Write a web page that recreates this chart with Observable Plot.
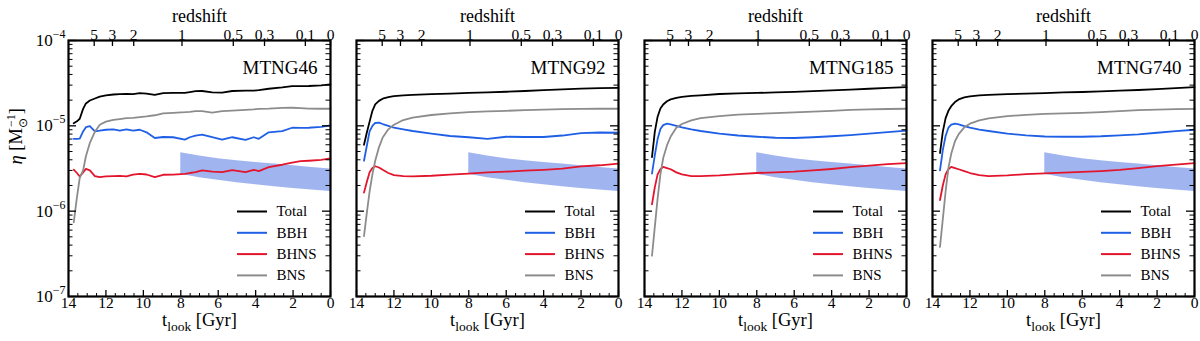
<!DOCTYPE html>
<html><head><meta charset="utf-8">
<script src="https://cdn.jsdelivr.net/npm/d3@7"></script>
<script src="https://cdn.jsdelivr.net/npm/@observablehq/plot@0.6"></script>
<style>
html,body{margin:0;padding:0;background:#fff;}
#chart{width:1200px;height:341px;}
#chart svg text{font-family:"Liberation Serif","Times New Roman",Times,serif;}
</style></head><body><div id="chart"></div>
<script>
// ---------------- data ----------------
const panels = ["MTNG46", "MTNG92", "MTNG185", "MTNG740"];
const seriesNames = ["Total", "BBH", "BHNS", "BNS"];
const seriesColors = ["#000000", "#1f5fe6", "#e3152c", "#8c8c8c"];

// MTNG46 (noisy), lookback time [Gyr], values in units of 1e-6 Msun^-1
const tLook46 = [13.72, 13.55, 13.4, 13.22, 13.07, 12.86, 12.59, 12.33, 12.0, 11.6, 11.26, 10.9, 10.55, 10.19, 9.83, 9.39, 8.94, 8.41, 7.78, 7.52, 7.21, 6.86, 6.32, 5.79, 5.25, 4.54, 4.1, 3.83, 3.3, 2.58, 2.05, 1.6, 1.16, 0.5, 0];
const total46 = [10.7, 11.3, 12.1, 15.8, 18.3, 19.8, 20.9, 22.0, 22.8, 23.3, 23.5, 23.7, 23.5, 24.2, 23.9, 23.1, 24.2, 24.3, 24.4, 24.9, 25.5, 25.6, 24.6, 24.5, 25.6, 25.9, 25.9, 26.2, 27.2, 28.2, 29.2, 29.2, 29.3, 29.8, 30.6];
const bbh46   = [7.05, 7.05, 7.1, 8.6, 9.64, 9.9, 8.6, 8.8, 9.0, 9.1, 8.8, 9.1, 8.8, 9.0, 8.4, 7.2, 7.4, 7.35, 6.9, 7.35, 7.7, 7.9, 7.35, 6.9, 7.35, 6.85, 7.35, 7.05, 8.4, 8.65, 9.5, 9.45, 9.5, 9.7, 10.1];
const bhns46  = [3.07, 2.8, 2.55, 2.85, 3.13, 3.0, 2.57, 2.5, 2.55, 2.57, 2.59, 2.55, 2.68, 2.74, 2.69, 2.5, 2.67, 2.68, 2.73, 2.8, 2.86, 3.0, 2.9, 2.86, 3.02, 2.86, 3.05, 2.95, 3.28, 3.5, 3.7, 3.85, 3.9, 4.0, 4.15];
const bns46   = [0.74, 1.45, 2.45, 3.0, 4.4, 6.3, 8.5, 10.3, 11.2, 11.75, 12.0, 12.3, 12.4, 12.65, 12.9, 13.3, 14.0, 14.2, 14.45, 14.6, 14.85, 14.9, 14.3, 14.9, 15.1, 15.4, 15.6, 15.8, 15.9, 16.2, 16.3, 16.1, 15.9, 15.85, 15.85];

// MTNG92 / MTNG185 / MTNG740 (smooth), common lookback grid [Gyr]
const tLookGrid = [13.6, 13.45, 13.3, 13.15, 13.0, 12.8, 12.6, 12.3, 12.0, 11.5, 11.0, 10.0, 9.0, 8.0, 7.0, 6.0, 5.0, 4.0, 3.0, 2.0, 1.0, 0.0];
const total92 = [6.0, 8.3, 11.2, 15.0, 17.8, 19.6, 20.8, 21.7, 22.3, 22.7, 23.0, 23.5, 23.9, 24.3, 24.7, 25.1, 25.6, 26.2, 26.8, 27.3, 27.6, 27.8];
const bbh92   = [3.9, 5.8, 8.6, 10.0, 10.8, 10.9, 10.5, 10.0, 9.5, 9.1, 8.7, 8.1, 7.6, 7.35, 7.05, 7.45, 7.4, 7.4, 7.7, 8.2, 8.35, 8.3];
const bhns92  = [1.65, 2.2, 2.85, 3.2, 3.36, 3.25, 3.05, 2.8, 2.65, 2.57, 2.56, 2.6, 2.68, 2.75, 2.85, 2.9, 2.98, 3.05, 3.15, 3.35, 3.45, 3.6];
const bns92   = [0.51, 0.95, 1.7, 2.7, 3.9, 5.6, 7.3, 9.1, 10.3, 11.7, 12.5, 13.4, 14.0, 14.45, 14.8, 15.0, 15.25, 15.5, 15.7, 15.8, 15.85, 15.85];

const total185 = [4.3, 8.5, 12.8, 16.0, 17.8, 19.4, 20.4, 21.3, 21.8, 22.4, 22.8, 23.6, 24.0, 24.3, 24.6, 25.0, 25.5, 26.0, 26.5, 27.2, 27.8, 28.4];
const bbh185   = [2.75, 4.5, 7.0, 9.2, 10.2, 10.6, 10.4, 10.0, 9.6, 9.1, 8.7, 8.1, 7.7, 7.45, 7.25, 7.2, 7.35, 7.55, 7.8, 8.1, 8.45, 8.8];
const bhns185  = [1.2, 1.9, 2.7, 3.1, 3.3, 3.2, 3.1, 2.85, 2.7, 2.57, 2.58, 2.62, 2.72, 2.8, 2.85, 2.9, 3.0, 3.12, 3.28, 3.42, 3.55, 3.65];
const bns185   = [0.30, 0.65, 1.4, 2.7, 4.2, 5.9, 7.5, 9.5, 10.5, 11.6, 12.3, 13.0, 13.5, 13.8, 14.1, 14.4, 14.7, 15.0, 15.35, 15.6, 15.75, 15.85];

const total740 = [4.8, 8.5, 12.3, 15.0, 17.0, 19.0, 20.4, 21.5, 22.2, 22.8, 23.1, 23.5, 23.8, 24.2, 24.6, 24.9, 25.3, 25.8, 26.3, 26.9, 27.6, 28.4];
const bbh740   = [3.0, 5.2, 7.6, 9.5, 10.3, 10.6, 10.4, 9.95, 9.55, 9.05, 8.7, 8.1, 7.75, 7.5, 7.45, 7.45, 7.55, 7.75, 7.95, 8.3, 8.65, 9.0];
const bhns740  = [1.35, 2.0, 2.7, 3.1, 3.3, 3.2, 3.1, 2.95, 2.8, 2.65, 2.58, 2.62, 2.72, 2.78, 2.83, 2.88, 2.95, 3.05, 3.2, 3.38, 3.52, 3.65];
const bns740   = [0.38, 0.8, 1.7, 3.2, 4.7, 6.6, 8.0, 9.6, 10.6, 11.6, 12.2, 13.0, 13.45, 13.8, 14.0, 14.2, 14.5, 14.85, 15.25, 15.5, 15.7, 15.8];

// shaded band (same in every panel), units of 1e-6
const bandT = [8, 7, 6, 5, 4, 3, 2, 1, 0];
const bandUpper = [4.85, 4.42, 4.12, 3.9, 3.73, 3.56, 3.40, 3.25, 3.12];
const bandLower = [2.7, 2.47, 2.3, 2.15, 2.04, 1.93, 1.84, 1.77, 1.7];

// axes
const redshiftValues = [5, 3, 2, 1, 0.5, 0.3, 0.1, 0];
const redshiftLabels = ["5", "3", "2", "1", "0.5", "0.3", "0.1", "0"];
const xMajorTicks = [14, 12, 10, 8, 6, 4, 2, 0];
const yMajorExponents = [-7, -6, -5, -4];

// ---------------- build tables ----------------
const unit = 1e-6;
const panelSeries = {
  MTNG46: [tLook46, [total46, bbh46, bhns46, bns46]],
  MTNG92: [tLookGrid, [total92, bbh92, bhns92, bns92]],
  MTNG185: [tLookGrid, [total185, bbh185, bhns185, bns185]],
  MTNG740: [tLookGrid, [total740, bbh740, bhns740, bns740]]
};
const rows = [];
for (const p of panels) {
  const [ts, arrs] = panelSeries[p];
  arrs.forEach((arr, si) => arr.forEach((v, i) => rows.push({panel: p, series: seriesNames[si], t: ts[i], v: v * unit})));
}
const bandRows = bandT.map((t, i) => ({t, lo: bandLower[i] * unit, hi: bandUpper[i] * unit}));

function lookback(z) {
  if (z === 0) return 0;
  const H0 = 67.74, Om = 0.3089, OL = 1 - Om, tH = 977.792 / H0, n = 400, h = z / n;
  let s = 0;
  for (let i = 0; i <= n; i++) {
    const zz = i * h, f = 1 / ((1 + zz) * Math.sqrt(Om * (1 + zz) ** 3 + OL));
    s += (i === 0 || i === n) ? f : (i % 2 ? 4 * f : 2 * f);
  }
  return tH * s * h / 3;
}

const yMajor = yMajorExponents.map(e => Math.pow(10, e));
const yMinor = [];
for (let e = -7; e < -4; e++) for (let m = 2; m <= 9; m++) yMinor.push(m * Math.pow(10, e));
const xMinor = d3.range(0, 14.001, 0.5).filter(v => v % 2 !== 0);

// ---------------- layout ----------------
const W = 1200, H = 341, mL = 68, mR = 6, mT = 40, mB = 45;
const pad = 0.0903;
const bw = (W - mL - mR) * (1 - pad) / (panels.length - pad);
const ih = H - mT - mB;
const xs = Plot.scale({x: {domain: [14, 0], range: [0, bw]}});
const ys = Plot.scale({y: {type: "log", domain: [1e-7, 1e-4], range: [ih, 0]}});
const legRowY = i => 171 + i * 21.3;

const chart = Plot.plot({
  width: W, height: H,
  marginLeft: mL, marginRight: mR, marginTop: mT, marginBottom: mB,
  style: {background: "white", color: "black"},
  fx: {domain: panels, paddingInner: pad, paddingOuter: 0, axis: null, label: null},
  x: {domain: [14, 0], axis: null},
  y: {type: "log", domain: [1e-7, 1e-4], axis: null},
  color: {domain: seriesNames, range: seriesColors},
  marks: [
    Plot.areaY(bandRows, {x: "t", y1: "lo", y2: "hi", fill: "#4169e1", fillOpacity: 0.5}),
    Plot.line(rows, {fx: "panel", x: "t", y: "v", z: "series", stroke: "series", strokeWidth: 1.8}),
    // y ticks (left & right, inward)
    Plot.tickY(yMajor, {y: d => d, insetRight: bw - 8, strokeWidth: 1.3}),
    Plot.tickY(yMinor, {y: d => d, insetRight: bw - 4.5, strokeWidth: 1}),
    Plot.tickY(yMajor, {y: d => d, insetLeft: bw - 8, strokeWidth: 1.3}),
    Plot.tickY(yMinor, {y: d => d, insetLeft: bw - 4.5, strokeWidth: 1}),
    // x ticks (bottom, inward)
    Plot.tickX(xMajorTicks, {x: d => d, insetTop: ih - 6, strokeWidth: 1.3}),
    Plot.tickX(xMinor, {x: d => d, insetTop: ih - 3, strokeWidth: 1}),
    // redshift ticks (top, inward)
    Plot.tickX(redshiftValues, {x: z => lookback(z), insetBottom: ih - 6, strokeWidth: 1.3}),
    // tick labels
    Plot.text(xMajorTicks, {x: d => d, text: d => String(d), frameAnchor: "bottom", dy: 11, fontSize: 15.5}),
    Plot.text(redshiftValues, {x: z => lookback(z), text: (z, i) => redshiftLabels[i], frameAnchor: "top", dy: -12, fontSize: 15.5}),
    Plot.text(yMajor, {fx: () => panels[0], y: d => d, text: d => "10^" + Math.round(Math.log10(d)), frameAnchor: "left", dx: -3, textAnchor: "end", fontSize: 17}),
    // axis labels
    Plot.text(["redshift"], {frameAnchor: "top", dy: -31, text: d => d, fontSize: 18}),
    Plot.text(["t_look [Gyr]"], {frameAnchor: "bottom", dy: 29, text: d => d, fontSize: 18.5}),
    Plot.text(["eta_label"], {fx: () => panels[0], frameAnchor: "left", dx: -52, dy: -4, rotate: -90, text: d => d, fontSize: 18.5}),
    // panel titles
    Plot.text(panels, {fx: d => d, text: d => d, frameAnchor: "top-right", dx: -13, dy: 20, textAnchor: "end", fontSize: 19}),
    // legend
    Plot.ruleY(seriesNames, {y: (d, i) => ys.invert(legRowY(i)), x1: () => xs.invert(169), x2: () => xs.invert(199), stroke: d => d, strokeWidth: 2}),
    Plot.text(seriesNames, {y: (d, i) => ys.invert(legRowY(i)), x: () => xs.invert(208), text: d => d, textAnchor: "start", fontSize: 15}),
    Plot.frame({stroke: "black", strokeWidth: 2.2})
  ]
});

// make every font-size attribute effective as inline style
chart.querySelectorAll("[font-size]").forEach(el => {
  const fs = el.getAttribute("font-size");
  el.style.fontSize = /^[\d.]+$/.test(fs) ? fs + "px" : fs;
});
chart.style.fontFamily = "'Liberation Serif', 'Times New Roman', Times, serif";

// rich-text post-processing (sub/superscripts)
const NS = "http://www.w3.org/2000/svg";
function tspan(parent, txt, attrs) {
  const t = document.createElementNS(NS, "tspan");
  for (const k in attrs) t.setAttribute(k, attrs[k]);
  t.textContent = txt;
  parent.appendChild(t);
  return t;
}
chart.querySelectorAll("text").forEach(el => {
  const s = el.textContent;
  let m;
  if ((m = s.match(/^10\^(-?\d+)$/))) {
    el.textContent = "";
    tspan(el, "10", {});
    tspan(el, m[1].replace("-", "\u2212"), {dy: "-8", style: "font-size:12px"});
  } else if (s === "t_look [Gyr]") {
    el.textContent = "";
    tspan(el, "t", {});
    tspan(el, "look", {dy: "5", style: "font-size:13.5px"});
    tspan(el, " [Gyr]", {dy: "-5"});
  } else if (s === "eta_label") {
    el.textContent = "";
    tspan(el, "\u03b7", {"font-style": "italic"});
    tspan(el, " [M", {});
    tspan(el, "\u2299", {dy: "5", style: "font-size:12px"});
    tspan(el, "\u22121", {dx: "-9", dy: "-12", style: "font-size:12px"});
    tspan(el, "]", {dy: "7"});
  }
});
document.getElementById("chart").appendChild(chart);
</script>
</body></html>
